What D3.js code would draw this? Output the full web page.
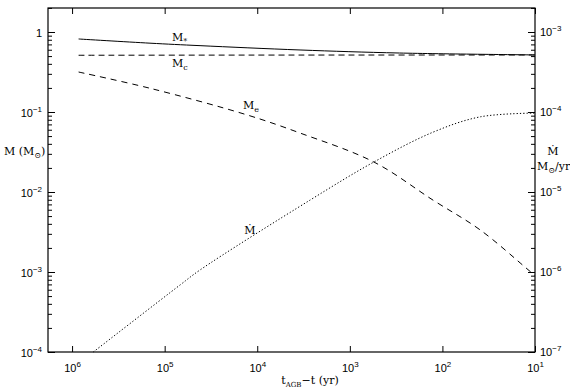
<!DOCTYPE html>
<html>
<head>
<meta charset="utf-8">
<script src="https://cdn.jsdelivr.net/npm/d3@7"></script>
<style>
  body { margin: 0; background: #fff; }
  svg { font-family: "DejaVu Serif", serif; }
  .axis text { font-size: 11px; fill: #000; }
  .axis line { stroke: #000; }
</style>
</head>
<body>
<div id="chart"></div>
<script>
// Time before the end of the AGB (yr) and values
const tStar = [8.5e5, 1.44e5, 4.15e4, 3.45e3, 2.9e2, 10];
const mStar = [0.818, 0.725, 0.675, 0.596, 0.546, 0.517];

const tCore = [8.5e5, 4.15e4, 3.45e3, 10];
const mCore = [0.512, 0.514, 0.515, 0.516];

const tEnv = [8.5e5, 1.44e5, 1.29e4, 3.45e3, 5.5e2, 1.26e2, 39, 12.8, 10];
const mEnv = [0.316, 0.198, 0.092, 0.0546, 0.0237, 0.0079, 0.00335, 0.00115, 0.0009];

// mass loss rate (Msun/yr), right axis
const tDot = [5.9e5, 6.8e4, 4.15e4, 2.7e3, 5.5e2, 1.26e2, 39, 10];
const mDot = [1e-7, 6.9e-7, 1.06e-6, 7.9e-6, 2.37e-5, 5.6e-5, 8.7e-5, 9.7e-5];

const xTicks = [1e6, 1e5, 1e4, 1e3, 1e2, 10];
const yLeftTicks = [1e-4, 1e-3, 1e-2, 1e-1, 1];
const yRightTicks = [1e-7, 1e-6, 1e-5, 1e-4, 1e-3];

const W = 570, H = 389;
const pLeft = 48, pRight = 535, pTop = 8, pBottom = 352;

const svg = d3.select('#chart').append('svg')
  .attr('width', W).attr('height', H);

const x = d3.scaleLog().domain([Math.pow(10, 6.26), 10]).range([pLeft, pRight]);
const yL = d3.scaleLog().domain([1e-4, Math.pow(10, 0.3)]).range([pBottom, pTop]);
const yR = d3.scaleLog().domain([1e-7, Math.pow(10, -2.7)]).range([pBottom, pTop]);

function minors(major, maxV) {
  const out = [];
  major.forEach(m => { for (let k = 2; k <= 9; k++) if (k * m <= maxV) out.push(k * m); });
  return out;
}

// write 10^n with a raised exponent
function powLabel(sel, oneAsPlain) {
  sel.each(function(d) {
    const t = d3.select(this).text('');
    const e = Math.round(Math.log10(d));
    if (oneAsPlain && e === 0) { t.text('1'); return; }
    t.append('tspan').text('10');
    t.append('tspan').attr('font-size', 8).attr('dy', -5)
      .text(e < 0 ? '\u2212' + (-e) : e);
  });
}

// bottom axis
const gB = svg.append('g').attr('class', 'axis')
  .attr('transform', `translate(0,${pBottom})`)
  .call(d3.axisBottom(x).tickValues(xTicks).tickSizeInner(-6).tickSizeOuter(0).tickPadding(12));
gB.selectAll('text').call(powLabel, false);

// top axis (ticks only)
svg.append('g').attr('class', 'axis')
  .attr('transform', `translate(0,${pTop})`)
  .call(d3.axisTop(x).tickValues(xTicks).tickSizeInner(-6).tickSizeOuter(0).tickFormat(''));

// left axis
const gL = svg.append('g').attr('class', 'axis')
  .attr('transform', `translate(${pLeft},0)`)
  .call(d3.axisLeft(yL).tickValues(yLeftTicks).tickSizeInner(-7).tickSizeOuter(0).tickPadding(6));
gL.selectAll('text').attr('dy', '0.4em').call(powLabel, true);
svg.append('g').attr('class', 'axis')
  .attr('transform', `translate(${pLeft},0)`)
  .call(d3.axisLeft(yL).tickValues(minors(yLeftTicks, 2)).tickSizeInner(-4).tickSizeOuter(0).tickFormat(''));

// right axis
const gR = svg.append('g').attr('class', 'axis')
  .attr('transform', `translate(${pRight},0)`)
  .call(d3.axisRight(yR).tickValues(yRightTicks).tickSizeInner(-7).tickSizeOuter(0).tickPadding(5));
gR.selectAll('text').attr('dy', '0.3em').call(powLabel, false);
svg.append('g').attr('class', 'axis')
  .attr('transform', `translate(${pRight},0)`)
  .call(d3.axisRight(yR).tickValues(minors(yRightTicks, 2e-3)).tickSizeInner(-4).tickSizeOuter(0).tickFormat(''));

svg.selectAll('.axis .domain').remove();

// frame
svg.append('rect')
  .attr('x', pLeft).attr('y', pTop)
  .attr('width', pRight - pLeft).attr('height', pBottom - pTop)
  .attr('fill', 'none').attr('stroke', '#000').attr('stroke-width', 1.2);

// curves
function drawCurve(ts, vs, yScale, dash) {
  const pts = ts.map((t, i) => [x(t), yScale(vs[i])]);
  svg.append('path')
    .attr('d', d3.line().curve(d3.curveCatmullRom.alpha(0.5))(pts))
    .attr('fill', 'none').attr('stroke', '#000').attr('stroke-width', 1)
    .attr('stroke-dasharray', dash);
}
drawCurve(tStar, mStar, yL, null);
drawCurve(tCore, mCore, yL, '6,4');
drawCurve(tEnv, mEnv, yL, '6,5');
drawCurve(tDot, mDot, yR, '1.3,2');

// curve labels
function massLabel(px, py, sub) {
  const t = svg.append('text').attr('x', px).attr('y', py).attr('font-size', 11);
  t.append('tspan').text('M');
  t.append('tspan').attr('font-size', 8).attr('dy', 3).text(sub);
}
massLabel(172, 41, '*');
massLabel(172, 67, 'c');
massLabel(243, 109, 'e');
svg.append('text').attr('x', 250).attr('y', 234).attr('font-size', 11)
  .attr('text-anchor', 'middle').text('\u1E40');

// axis titles
const yt = svg.append('text').attr('x', 4).attr('y', 155).attr('font-size', 11);
yt.append('tspan').text('M (M');
yt.append('tspan').attr('font-size', 8).attr('dy', 3).text('\u2299');
yt.append('tspan').attr('dy', -3).text(')');

svg.append('text').attr('x', 553).attr('y', 155).attr('font-size', 11)
  .attr('text-anchor', 'middle').text('\u1E40');
const rt = svg.append('text').attr('x', 537).attr('y', 170).attr('font-size', 11);
rt.append('tspan').text('M');
rt.append('tspan').attr('font-size', 8).attr('dy', 3).text('\u2299');
rt.append('tspan').attr('dy', -3).text('/yr');

const xt = svg.append('text').attr('x', 310).attr('y', 384).attr('font-size', 11)
  .attr('text-anchor', 'middle');
xt.append('tspan').text('t');
xt.append('tspan').attr('font-size', 7).attr('dy', 3).text('AGB');
xt.append('tspan').attr('dy', -3).text('\u2212t (yr)');
</script>
</body>
</html>
